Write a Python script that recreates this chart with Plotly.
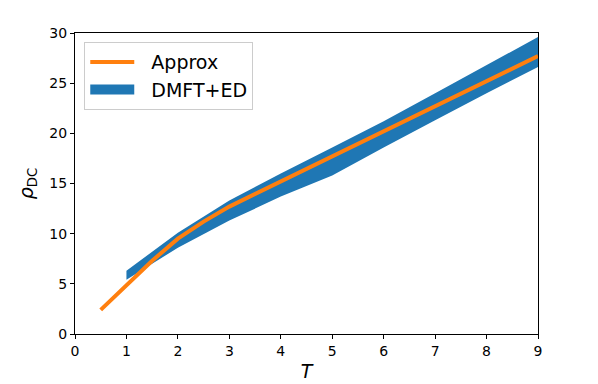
import plotly.graph_objects as go

# Approximation curve
T_approx = [0.5, 1.0, 1.5, 2.0, 2.5, 3.0, 4.0, 5.0, 6.0, 7.0, 8.0, 9.0]
rho_approx = [2.4, 4.9, 7.3, 9.5, 11.2, 12.7, 15.2, 17.6, 20.1, 22.6, 25.1, 27.7]

# DMFT+ED band
T_dmft = [1, 2, 3, 4, 5, 6, 7, 8, 9]
rho_upper = [6.3, 10.1, 13.3, 16.0, 18.6, 21.2, 24.0, 26.8, 29.6]
rho_lower = [5.4, 8.6, 11.3, 13.7, 15.8, 18.6, 21.3, 24.0, 26.6]

x_ticks = [0, 1, 2, 3, 4, 5, 6, 7, 8, 9]
y_ticks = [0, 5, 10, 15, 20, 25, 30]

BLUE = "#1f77b4"
ORANGE = "#ff7f0e"

fig = go.Figure()
fig.add_trace(go.Scatter(
    x=T_dmft + T_dmft[::-1],
    y=rho_upper + rho_lower[::-1],
    fill="toself", fillcolor=BLUE,
    line=dict(width=0, color=BLUE),
    mode="lines", name="DMFT+ED", showlegend=False, hoverinfo="skip",
))
fig.add_trace(go.Scatter(
    x=T_approx, y=rho_approx, mode="lines",
    line=dict(color=ORANGE, width=4),
    name="\u00a0\u00a0Approx", legendrank=1,
))
# legend entry for the band (drawn as a thick patch)
fig.add_trace(go.Scatter(
    x=[None], y=[None], mode="lines",
    line=dict(color=BLUE, width=15),
    name="\u00a0\u00a0DMFT+ED", legendrank=2,
))

axis_common = dict(
    showgrid=False, zeroline=False, showline=True, linecolor="black",
    linewidth=1, mirror=True, ticks="outside", ticklen=4, tickcolor="black",
    tickfont=dict(size=14, color="black", family="DejaVu Sans"),
    automargin=False,
)
fig.update_layout(
    width=590, height=376,
    margin=dict(l=67, r=60, t=25, b=50),
    paper_bgcolor="white", plot_bgcolor="white",
    font=dict(family="DejaVu Sans", color="black"),
    showlegend=True,
    legend=dict(
        x=0.02, y=0.97, xanchor="left", yanchor="top",
        bgcolor="rgba(255,255,255,0.8)", bordercolor="#cccccc", borderwidth=1,
        font=dict(size=19, color="black"), itemwidth=44,
    ),
    xaxis=dict(range=[0, 9], tickvals=x_ticks,
               title=dict(text="<i>T</i>", font=dict(size=19), standoff=6),
               **axis_common),
    yaxis=dict(range=[0, 30], tickvals=y_ticks,
               title=dict(text="<i>ρ</i><sub>DC</sub>", font=dict(size=19), standoff=10),
               **axis_common),
)

fig.write_html("out.html")
